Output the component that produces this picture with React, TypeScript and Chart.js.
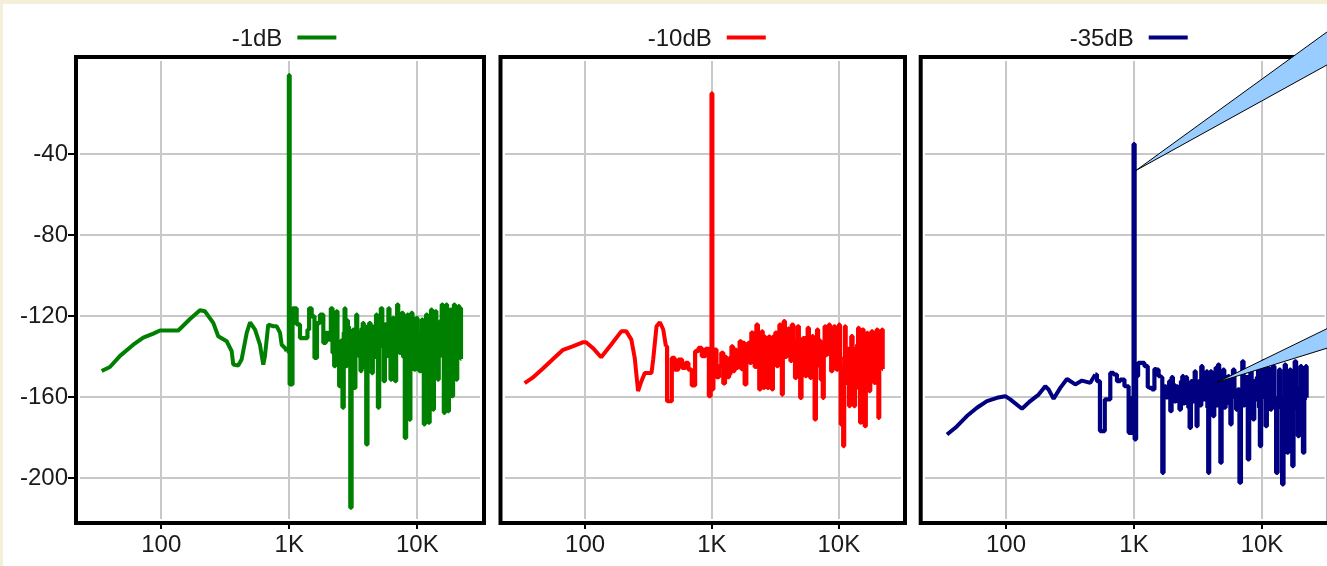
import { useEffect, useRef } from 'react';
import { Chart, registerables } from 'chart.js';

Chart.register(...registerables);

// ---------- axis definitions ----------
const xTickValues = [100, 1000, 10000];
const xTickLabels = ['100', '1K', '10K'];
const yTickValues = [-200, -160, -120, -80, -40];
const X_MIN = 23.17;
const X_MAX = 30903;
const Y_MIN = -220;
const Y_MAX = 6;

// ---------- series ----------
const seriesLabels = ['-1dB', '-10dB', '-35dB'];
const seriesColors = ['#008000', '#ff0000', '#000080'];
// frequency above which each spectrum is drawn as a stepped (binned) trace
const stepFrom = [953, 433.7, 498.4];

const freqGreen = [
  34.2, 39.7, 47.6, 60.4, 72.3, 86.6, 97.7, 135.8, 167.6, 200.5,
  219, 254.8, 278.6, 324.3, 354.8, 365, 399, 424, 465, 494,
  540, 590, 626, 645, 685, 751, 798, 847, 872, 925,
  953, 985, 1000, 1013, 1108, 1177, 1249, 1367, 1408, 1451,
  1541, 1607, 1686, 1790, 1901, 1958, 2080,
  2143, 2210, 2275, 2310, 2344, 2415, 2489, 2565, 2643, 2683,
  2724, 2765, 2807, 2850, 2893, 2960, 3034, 3100, 3165, 3212,
  3261, 3310, 3360, 3430, 3504, 3568, 3633, 3710, 3789, 3846,
  3904, 3962, 4022, 4145, 4270, 4360, 4454, 4535, 4617, 4715,
  4815, 4888, 4962, 5112, 5268, 5395, 5526, 5644, 5764, 5886,
  6010, 6118, 6230, 6362, 6498, 6636, 6776, 6898, 7024, 7172,
  7325, 7480, 7640, 7870, 8111, 8258, 8408, 8587, 8770, 8902,
  9036, 9312, 9594, 9739, 9886, 10188, 10498, 10720, 10948, 11146,
  11348, 11590, 11837, 12088, 12344, 12642, 12949, 13145, 13345, 13628,
  13917, 14255, 14600, 14820, 15045, 15366, 15692, 15977, 16266, 16612,
  16962, 17218, 17477, 17850, 18229, 18560, 18895, 19180, 19470, 19885,
  20303, 20737, 21176, 21480, 21800, 22100];
const dbGreen = [
  -147, -145, -139.5, -134, -130.5, -128.5, -127, -127, -121.3, -117,
  -117.5, -123.2, -129.8, -132.3, -137.2, -143.8, -144.3, -141.3, -128.2, -123,
  -126.6, -134, -143.8, -139.7, -124.1, -124.9, -124.9, -128.2, -134, -135.6,
  -137.2, -136, -1, -153.6, -116, -124, -130.7, -130.7, -126.6, -116,
  -120, -140.5, -123.3, -119.2, -133.1, -128.2, -131.5,
  -116, -138, -144.6, -125, -117.5, -140, -154.5, -132, -165, -128,
  -116, -138, -144.6, -122, -125, -142, -214.4, -130, -126.6, -140,
  -155.3, -128, -119.2, -138, -128.2, -140, -147, -126, -123.3, -138,
  -145.4, -125, -183.2, -132, -123.3, -141, -148, -125, -133, -140,
  -119.2, -136, -165, -125, -116, -135, -152, -124, -139.7, -127,
  -116, -140, -151.2, -128, -120.8, -140, -152, -126, -114.2, -132,
  -138, -124, -118.3, -140, -180, -128, -119.2, -140, -171, -127,
  -118.3, -134, -146.3, -126, -120.8, -136, -147, -128, -121.6, -140,
  -173.3, -130, -119.2, -140, -172.5, -128, -116.7, -138, -166, -130,
  -117.5, -138, -151.2, -130, -122.5, -134, -114.2, -140, -167.6, -128,
  -114.2, -140, -166.8, -130, -116.7, -140, -159.4, -126, -114.2, -138,
  -151.2, -126, -115, -135, -116, -141];

const freqRed = [
  33.4, 38.4, 46.1, 55.4, 66.4, 79.8, 95.8, 101.8, 115, 133.9,
  160.8, 193, 211.4, 231.6, 246.2, 261.6, 278.1, 295.6, 333.9, 344.2,
  365.8, 388.7, 413.1, 433.7, 452.6, 475.2, 489.9, 527.2, 560.4, 602.8,
  632.9, 672.6, 714.8, 759.7, 807, 858, 923, 969, 985, 1000,
  1015, 1038, 1062, 1110, 1164, 1205, 1252, 1283, 1315, 1348,
  1380, 1410, 1440, 1485, 1531, 1578, 1627, 1677, 1730, 1782,
  1838, 1895, 1953, 2013, 2075, 2140, 2206, 2275, 2330, 2388,
  2440, 2492, 2530, 2569, 2609, 2649, 2705, 2764, 2832, 2902,
  2946, 2991, 3056, 3122, 3200, 3279, 3360, 3442, 3516, 3592,
  3647, 3703, 3818, 3936, 4020, 4106, 4206, 4311, 4445, 4583,
  4682, 4782, 4900, 5020, 5145, 5272, 5385, 5501, 5620, 5741,
  5882, 6027, 6120, 6213, 6366, 6523, 6664, 6808, 6912, 7018,
  7126, 7236, 7392, 7551, 7667, 7785, 7929, 8075, 8250, 8426,
  8608, 8793, 9010, 9233, 9460, 9694, 9903, 10116, 10270, 10428,
  10690, 10950, 11085, 11220, 11427, 11637, 11890, 12144, 12406, 12673,
  12988, 13310, 13555, 13804, 14060, 14318, 14583, 14852, 15172, 15498,
  15831, 16171, 16469, 16773, 17134, 17501, 17880, 18266, 18720, 19181,
  19655, 20137, 20380, 20631, 21012, 21399, 21700, 22000, 22336];
const dbRed = [
  -153, -150.4, -146, -141.3, -136.7, -134.8, -132.8, -132.8, -135.6, -140.2,
  -133.9, -127.4, -127.4, -131.5, -140.5, -156.9, -152, -147.9, -147.9, -141.3,
  -124.9, -122.9, -126.5, -134.8, -161.9, -161.9, -140.5, -146.3, -141.3, -145.4,
  -143, -146.3, -154.1, -137.2, -135.6, -139.7, -136, -159.4, -138, -10,
  -156, -140, -136.4, -150, -144.6, -138, -153.1, -140, -141.3, -150,
  -148.7, -140, -134.8, -147, -136.4, -145.4, -138, -132.3, -146, -133.1,
  -153.6, -140, -133.1, -143, -128, -133.1, -145, -124.1, -140, -156.1,
  -135, -127.4, -142, -155.3, -130, -134.8, -145, -155.3, -130, -131.5,
  -146, -156.1, -130, -134.8, -128, -144.6, -132, -124.1, -140, -158.6,
  -135, -122.4, -140, -136.4, -126, -129.8, -142, -124.1, -140, -150.4,
  -132, -124.9, -142, -160.2, -132, -130.7, -140, -149.5, -130, -125.7,
  -138, -150.4, -134, -129.8, -142, -170.9, -136, -126.5, -138, -144.6,
  -132, -151.2, -134, -160.2, -140, -124.9, -134, -138.9, -130, -124.1,
  -138, -147.1, -132, -124.9, -140, -146.3, -130, -124.1, -145, -173.3,
  -150, -184, -140, -124.9, -140, -152.8, -136, -164.3, -138, -129.8,
  -142, -164.3, -136, -155.3, -134, -125.7, -140, -172.5, -136, -126.5,
  -140, -174.2, -134, -128.2, -142, -156.9, -134, -127.4, -140, -152.8,
  -134, -126.5, -140, -170.1, -136, -127.4, -140, -126.5, -146];

const freqBlue = [
  34.6, 40.2, 49.5, 59.3, 71, 85, 98.7, 108, 133.3, 154.8,
  179.9, 202.8, 215.3, 235.6, 265.6, 299.4, 347.8, 392.2, 455.6, 498.4,
  529.3, 555.3, 586.1, 596.8, 633.6, 672.8, 714.4, 758.6, 805.4, 881.4,
  935.8, 985, 1000, 1023.6, 1055,
  1100, 1154, 1263, 1300, 1341, 1424, 1465, 1511, 1605, 1645,
  1684, 1720, 1756, 1810, 1865, 1900, 1944, 1990, 2040, 2100,
  2166, 2232, 2300, 2356, 2413, 2465, 2517, 2570, 2624, 2688,
  2753, 2820, 2888, 2950, 3011, 3057, 3104, 3170, 3237, 3315,
  3396, 3470, 3542, 3628, 3716, 3772, 3830, 3910, 3993, 4090,
  4190, 4290, 4395, 4488, 4583, 4680, 4779, 4896, 5016, 5137,
  5261, 5373, 5487, 5603, 5722, 5860, 6003, 6185, 6374, 6570,
  6768, 6935, 7101, 7252, 7406, 7630, 7863, 8030, 8200, 8400,
  8603, 8810, 9024, 9216, 9413, 9555, 9700, 9995, 10297, 10547,
  10803, 11032, 11266, 11505, 11749, 12035, 12327, 12700, 13090, 13410,
  13736, 14150, 14581, 14890, 15205, 15530, 15859, 16245, 16637, 17040,
  17454, 17825, 18201, 18760, 19333, 19740, 20160, 20650, 21148, 21665,
  22193, 22461];
const dbBlue = [
  -178.3, -175, -169.2, -165.1, -161.8, -160.2, -159.4, -161, -165.6, -161.8,
  -158.6, -154.5, -156.1, -160.7, -155.3, -150.9, -153.6, -151.7, -152.8, -148.7,
  -152, -176.6, -176.6, -161, -161, -147.9, -148.7, -152, -151.2, -154.5,
  -177.5, -160, -35, -180.7, -149.5,
  -143, -143, -144.6, -155, -155.3, -156.1, -146, -146.3, -149.5, -150,
  -197.2, -155, -154.5, -160, -159.4, -152, -166.8, -150, -153.6, -162,
  -154.5, -158, -166, -152, -149.5, -163, -161, -150, -155.3, -165,
  -175, -152, -156.1, -162, -147.1, -160, -174.2, -156, -152, -164,
  -144.6, -160, -161, -152, -147.1, -165, -197.2, -156, -147.1, -162,
  -169.2, -152, -145.4, -164, -143.8, -160, -192.2, -155, -146.3, -165,
  -159.4, -150, -149.5, -163, -173.3, -152, -146.3, -160, -166, -156,
  -202.1, -158, -142.2, -164, -161, -150, -190.6, -158, -146.3, -164,
  -170.9, -152, -161, -150, -143.8, -165, -184, -152, -142.2, -160,
  -174.2, -155, -145.4, -162, -166, -152, -144.6, -165, -197.2, -160,
  -146.3, -165, -202.9, -160, -143.8, -165, -187.3, -156, -146.3, -168,
  -193.9, -158, -142.2, -165, -179.1, -155, -144.6, -166, -187.3, -156,
  -144.6, -160.2];

// callout anchors (value space) on the third panel
const calloutFreq = [1000, 4315];
const calloutDb = [-48, -152.5];

const seriesFreqs = [freqGreen, freqRed, freqBlue];
const seriesDbs = [dbGreen, dbRed, dbBlue];

// ---------- layout ----------
const W = 1327;
const H = 566;
const PLOT_TOP = 61;
const PLOT_BOTTOM = 519;
const X_AXIS_H = 40;
const panels = [
  { left: 80, right: 480, showY: true, yW: 80 },
  { left: 504.5, right: 901, showY: false, yW: 10 },
  { left: 924.7, right: 1324.7, showY: false, yW: 10 },
];

const FONT_FAMILY = '"Liberation Sans", Arial, sans-serif';
const TEXT = '#1a1a1a';

const decorPlugin = {
  id: 'decor',
  afterDraw(chart: any, _args: any, opts: any) {
    const { ctx, chartArea: a, scales } = chart;
    const g = 4;
    ctx.save();
    ctx.strokeStyle = '#000';
    ctx.lineWidth = 4;
    ctx.strokeRect(a.left - g, a.top - g, a.right - a.left + 2 * g, a.bottom - a.top + 2 * g);
    ctx.lineWidth = 2;
    ctx.beginPath();
    for (const v of xTickValues) {
      const px = Math.round(scales.x.getPixelForValue(v));
      ctx.moveTo(px, a.bottom + g);
      ctx.lineTo(px, a.bottom + g + 6);
    }
    if (opts.showY) {
      for (const v of yTickValues) {
        const py = Math.round(scales.y.getPixelForValue(v));
        ctx.moveTo(a.left - g, py);
        ctx.lineTo(a.left - g - 8, py);
      }
    }
    ctx.stroke();
    // legend: text, then a line sample
    const ds = chart.data.datasets[0];
    ctx.font = `24px ${FONT_FAMILY}`;
    ctx.fillStyle = TEXT;
    ctx.textBaseline = 'middle';
    ctx.textAlign = 'left';
    const tw = ctx.measureText(ds.label).width;
    const gap = 15;
    const len = 39;
    const total = tw + gap + len;
    const x0 = (a.left + a.right) / 2 + 4 - total / 2;
    const ty = a.top - 22;
    ctx.fillText(ds.label, x0, ty);
    ctx.strokeStyle = ds.borderColor;
    ctx.lineWidth = 4;
    ctx.beginPath();
    ctx.moveTo(x0 + tw + gap, ty - 1.5);
    ctx.lineTo(x0 + tw + gap + len, ty - 1.5);
    ctx.stroke();
    if (opts.callouts) {
      const slopes = [
        [-0.725, -0.5525],
        [-0.488, -0.31],
      ];
      for (let i = 0; i < calloutFreq.length; i++) {
        const tx = scales.x.getPixelForValue(calloutFreq[i]) + 2;
        const ty2 = scales.y.getPixelForValue(calloutDb[i]);
        const d = 260;
        ctx.beginPath();
        ctx.moveTo(tx, ty2);
        ctx.lineTo(tx + d, ty2 + slopes[i][0] * d);
        ctx.lineTo(tx + d, ty2 + slopes[i][1] * d);
        ctx.closePath();
        ctx.fillStyle = '#99ccff';
        ctx.fill();
        ctx.strokeStyle = '#000';
        ctx.lineWidth = 1;
        ctx.stroke();
      }
    }
    ctx.restore();
  },
};

function makeConfig(i: number): any {
  const p = panels[i];
  const pts = seriesFreqs[i].map((f, k) => ({ x: f, y: seriesDbs[i][k] }));
  const smooth = pts.filter((d) => d.x <= stepFrom[i]);
  const stepped = pts.filter((d) => d.x >= stepFrom[i]);
  const base = {
    label: seriesLabels[i],
    borderColor: seriesColors[i],
    backgroundColor: seriesColors[i],
    pointRadius: 0,
    tension: 0,
    borderJoinStyle: 'bevel',
    borderCapStyle: 'butt',
    fill: false,
  };
  return {
    type: 'line',
    data: {
      datasets: [
        { ...base, data: smooth, borderWidth: 4 },
        { ...base, data: stepped, stepped: 'middle', borderWidth: 4.2 },
      ],
    },
    options: {
      responsive: false,
      animation: false,
      devicePixelRatio: 1,
      layout: {
        padding: {
          left: p.left - p.yW,
          right: W - p.right,
          top: PLOT_TOP,
          bottom: H - PLOT_BOTTOM - X_AXIS_H,
        },
      },
      plugins: {
        legend: { display: false },
        tooltip: { enabled: false },
        title: { display: false },
        decor: { showY: p.showY, callouts: i === 2 },
      },
      scales: {
        x: {
          type: 'logarithmic',
          min: X_MIN,
          max: X_MAX,
          bounds: 'data',
          afterBuildTicks: (s: any) => {
            s.ticks = xTickValues.map((value) => ({ value }));
          },
          afterFit: (s: any) => {
            s.height = X_AXIS_H;
            s.paddingLeft = 0;
            s.paddingRight = 0;
          },
          grid: { color: '#c8c8c8', lineWidth: 2, drawTicks: false },
          border: { display: false },
          ticks: {
            autoSkip: false,
            maxRotation: 0,
            minRotation: 0,
            padding: 12,
            color: TEXT,
            font: { family: FONT_FAMILY, size: 24 },
            callback: (_v: any, idx: number) => xTickLabels[idx],
          },
        },
        y: {
          type: 'linear',
          min: Y_MIN,
          max: Y_MAX,
          bounds: 'data',
          afterBuildTicks: (s: any) => {
            s.ticks = yTickValues.map((value) => ({ value }));
          },
          afterFit: (s: any) => {
            s.width = p.yW;
            s.paddingTop = 0;
            s.paddingBottom = 0;
          },
          grid: { color: '#c8c8c8', lineWidth: 2, drawTicks: false },
          border: { display: false },
          ticks: {
            display: p.showY,
            padding: 12,
            color: TEXT,
            font: { family: FONT_FAMILY, size: 24 },
            callback: (v: any) => String(v),
          },
        },
      },
    },
    plugins: [decorPlugin],
  };
}

export default function App() {
  const r0 = useRef<HTMLCanvasElement>(null);
  const r1 = useRef<HTMLCanvasElement>(null);
  const r2 = useRef<HTMLCanvasElement>(null);

  useEffect(() => {
    const refs = [r0, r1, r2];
    const charts = refs.map((r, i) => new Chart(r.current as HTMLCanvasElement, makeConfig(i)));
    return () => charts.forEach((c) => c.destroy());
  }, []);

  const cstyle: any = { position: 'absolute', left: 0, top: 0, width: W, height: H };
  return (
    <div style={{ position: 'fixed', left: 0, top: 0, width: W, height: H, background: '#f3efd9', overflow: 'hidden' }}>
      <div style={{ position: 'absolute', left: 3, top: 4, right: 0, bottom: 0, background: '#ffffff' }} />
      <canvas ref={r0} width={W} height={H} style={cstyle} />
      <canvas ref={r1} width={W} height={H} style={cstyle} />
      <canvas ref={r2} width={W} height={H} style={cstyle} />
    </div>
  );
}
